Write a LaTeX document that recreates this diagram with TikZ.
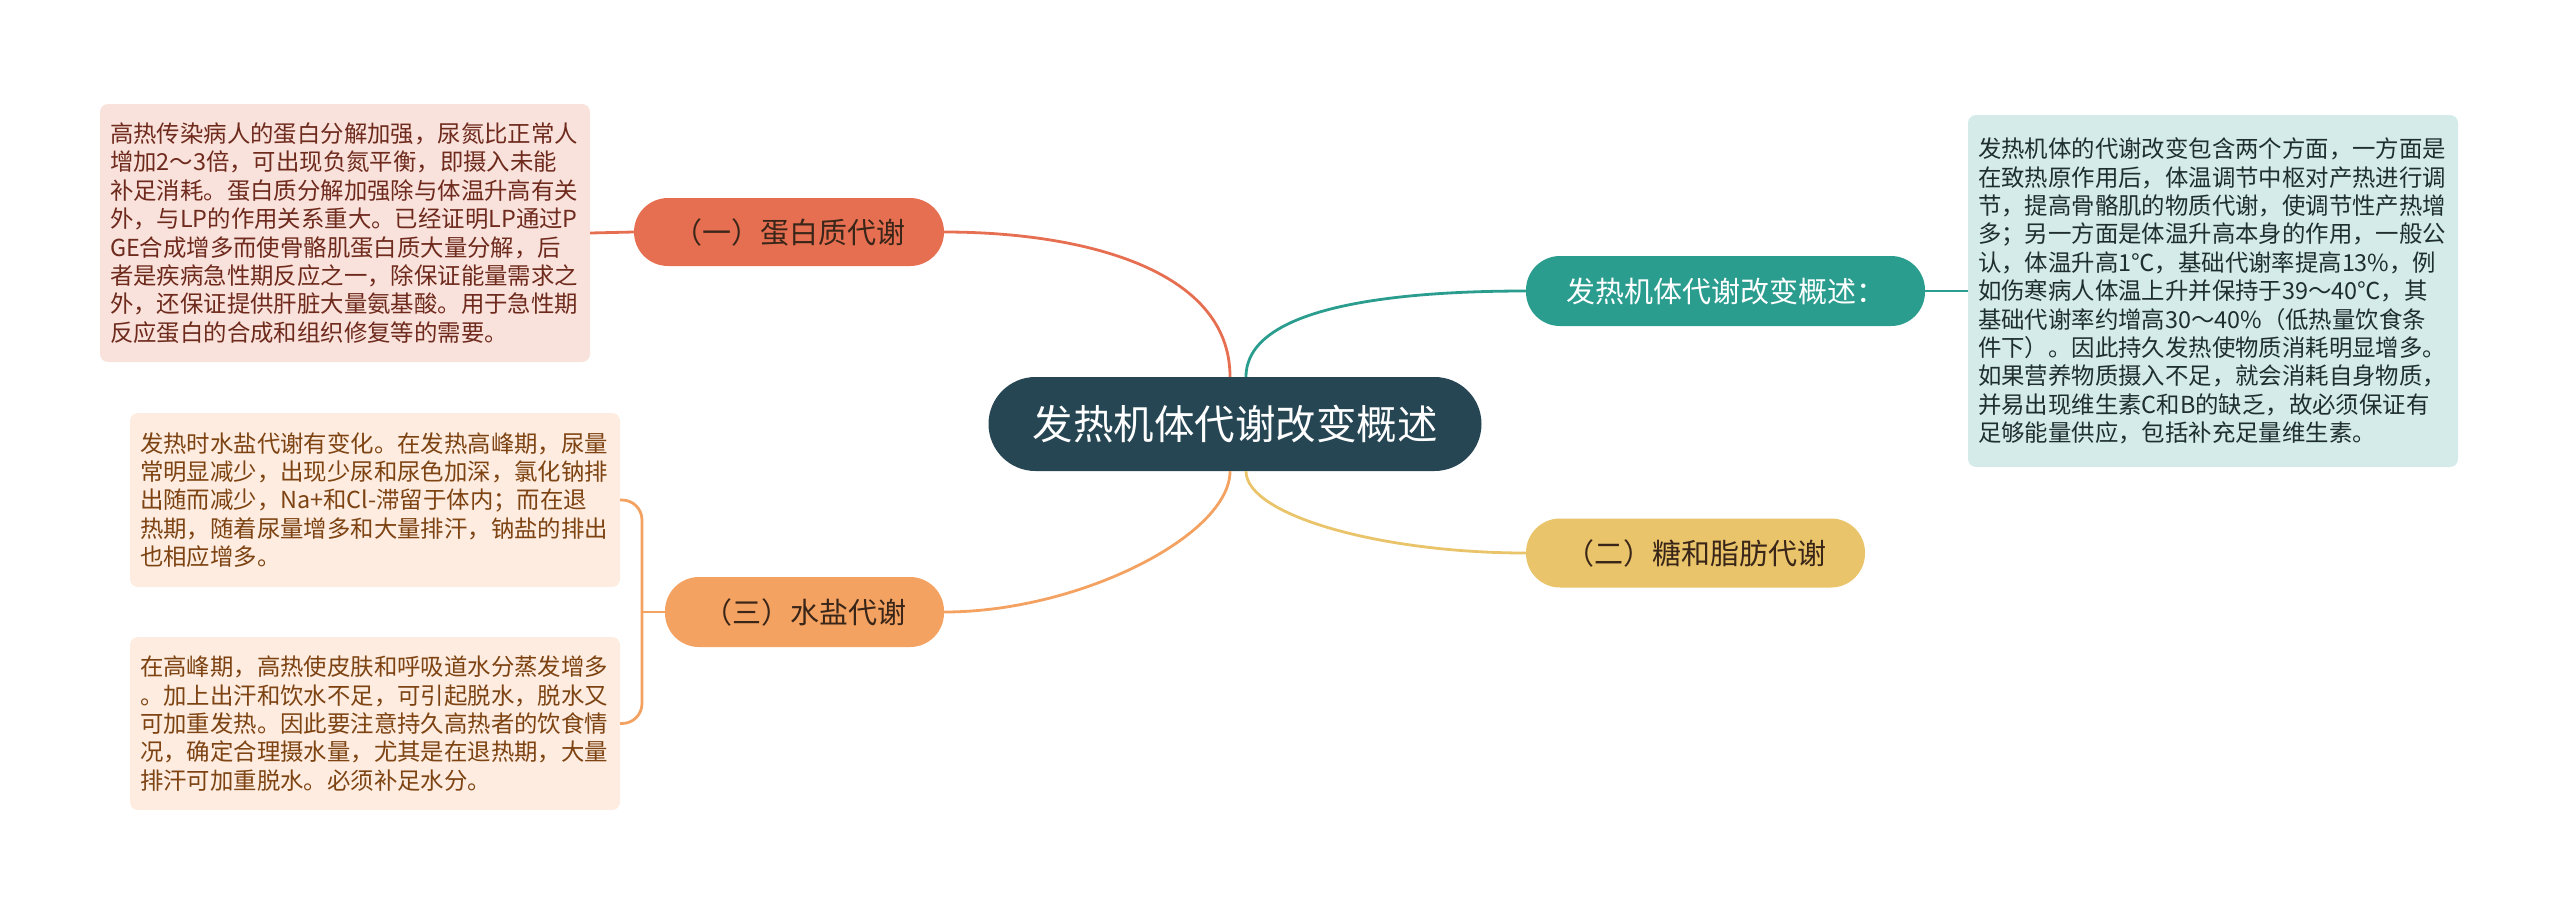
\documentclass[tikz,border=0pt]{standalone}
\usepackage{fontspec}
\newfontfamily\cjk{Noto Sans CJK SC}
\definecolor{rootc}{HTML}{264653}
\definecolor{tealc}{HTML}{2A9D8F}
\definecolor{sandc}{HTML}{E9C46A}
\definecolor{orangec}{HTML}{F4A261}
\definecolor{coralc}{HTML}{E76F51}
\definecolor{coraltext}{HTML}{6E2A1C}
\definecolor{orangetext}{HTML}{7D4312}
\definecolor{tealtext}{HTML}{1F2F2E}
\definecolor{darktext}{HTML}{3A2619}
\tikzset{
    topic/.style={rounded corners=34pt,minimum height=69pt,inner sep=0pt,text=darktext,
        font=\cjk\fontsize{29}{33}\selectfont},
    textbox/.style={rounded corners=8pt,text width=470pt,inner xsep=10pt,inner ysep=0pt,
        align=left,font=\cjk\fontsize{23.4}{28.4}\selectfont},
    link/.style={line width=2.8pt}
}

\begin{document}
\begin{tikzpicture}[x=1pt,y=-1pt]
    \useasboundingbox (0,0) rectangle (2560,911);
    % centre and topics
    \node[topic,fill=rootc,text=white,minimum width=493pt,minimum height=94pt,rounded corners=47pt,
        font=\cjk\fontsize{40.5}{44}\selectfont] (root) at (1235,424) {发热机体代谢改变概述};
    \node[topic,fill=coralc,minimum width=310pt,minimum height=68pt] (protein) at (789,232) {（一）蛋白质代谢};
    \node[topic,fill=orangec,minimum width=279pt,minimum height=70pt] (water) at (804.5,612) {（三）水盐代谢};
    \node[topic,fill=tealc,text=white,minimum width=399pt,minimum height=70pt] (overview) at (1725.5,291) {发热机体代谢改变概述：};
    \node[topic,fill=sandc,minimum width=339pt,minimum height=69pt] (sugar) at (1695.5,553) {（二）糖和脂肪代谢};
    % text boxes
    \node[textbox,fill=coralc!20,text=coraltext,minimum height=258pt] (tprotein) at (345,233) {%
        高热传染病人的蛋白分解加强，尿氮比正常人\\
        增加2～3倍，可出现负氮平衡，即摄入未能\\
        补足消耗。蛋白质分解加强除与体温升高有关\\
        外，与LP的作用关系重大。已经证明LP通过P\\
        GE合成增多而使骨骼肌蛋白质大量分解，后\\
        者是疾病急性期反应之一，除保证能量需求之\\
        外，还保证提供肝脏大量氨基酸。用于急性期\\
        反应蛋白的合成和组织修复等的需要。};
    \node[textbox,fill=orangec!20,text=orangetext,minimum height=174pt] (twater1) at (375,500) {%
        发热时水盐代谢有变化。在发热高峰期，尿量\\
        常明显减少，出现少尿和尿色加深，氯化钠排\\
        出随而减少，Na+和Cl-滞留于体内；而在退\\
        热期，随着尿量增多和大量排汗，钠盐的排出\\
        也相应增多。};
    \node[textbox,fill=orangec!20,text=orangetext,minimum height=173pt] (twater2) at (375,723.5) {%
        在高峰期，高热使皮肤和呼吸道水分蒸发增多\\
        。加上出汗和饮水不足，可引起脱水，脱水又\\
        可加重发热。因此要注意持久高热者的饮食情\\
        况，确定合理摄水量，尤其是在退热期，大量\\
        排汗可加重脱水。必须补足水分。};
    \node[textbox,fill=tealc!20,text=tealtext,minimum height=352pt] (toverview) at (2213,291) {%
        发热机体的代谢改变包含两个方面，一方面是\\
        在致热原作用后，体温调节中枢对产热进行调\\
        节，提高骨骼肌的物质代谢，使调节性产热增\\
        多；另一方面是体温升高本身的作用，一般公\\
        认，体温升高1℃，基础代谢率提高13\%，例\\
        如伤寒病人体温上升并保持于39～40℃，其\\
        基础代谢率约增高30～40\%（低热量饮食条\\
        件下）。因此持久发热使物质消耗明显增多。\\
        如果营养物质摄入不足，就会消耗自身物质，\\
        并易出现维生素C和B的缺乏，故必须保证有\\
        足够能量供应，包括补充足量维生素。};
    % connectors
    \coordinate (fork) at (642,612);
    \draw[link,coralc] ([xshift=-5pt]root.north) .. controls (1230,268) and (1080,232) .. (protein.east);
    \draw[link,orangec] ([xshift=-5pt]root.south) .. controls (1230,535) and (1080,612) .. (water.east);
    \draw[link,tealc] ([xshift=11pt]root.north) .. controls (1246,310) and (1380,291) .. (overview.west);
    \draw[link,sandc] ([xshift=11pt]root.south) .. controls (1246,515) and (1380,553) .. (sugar.west);
    \draw[link,coralc] (protein.west) -- (tprotein.east);
    \draw[link,tealc] (overview.east) -- (toverview.west);
    \draw[link,orangec] (water.west) -- (fork);
    \draw[link,orangec,rounded corners=20pt] (fork) |- (twater1.east);
    \draw[link,orangec,rounded corners=20pt] (fork) |- (twater2.east);
\end{tikzpicture}
\end{document}
